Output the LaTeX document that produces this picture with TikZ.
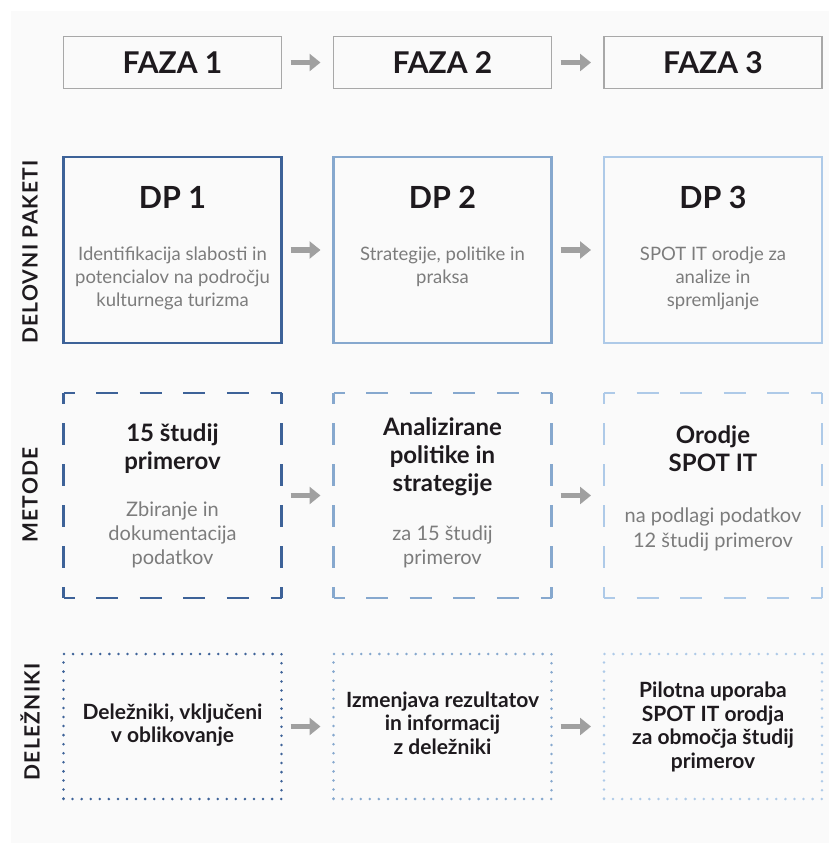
\documentclass[tikz,border=0pt]{standalone}
\usepackage{fontspec}
\setmainfont{Lato}
\usetikzlibrary{arrows.meta}
\definecolor{bA}{HTML}{3D6298}
\definecolor{bB}{HTML}{86A8CE}
\definecolor{bC}{HTML}{AECAE8}
\definecolor{gline}{HTML}{A8A8A8}
\definecolor{garrow}{HTML}{A0A0A0}
\definecolor{tdark}{HTML}{1E1A1E}
\definecolor{tlight}{HTML}{7C7C7C}
\definecolor{bgpaper}{HTML}{FAFAFA}
\tikzset{
  every node/.style={outer sep=0pt},
  fazabox/.style={draw=gline, line width=1.6pt, minimum width=218pt, minimum height=52pt, inner sep=0pt, font=\fontsize{30}{33}\selectfont\bfseries, text=tdark},
  dpbox/.style={line width=2.4pt, minimum width=218pt, minimum height=186pt, inner sep=0pt},
  metbox/.style={minimum width=218pt, minimum height=205pt, inner sep=0pt},
  dh/.style={line width=2.5pt, dash pattern=on 22pt off 21.6pt, dash phase=11pt},
  dv/.style={line width=2.5pt, dash pattern=on 22pt off 19pt, dash phase=11pt},
  delbox/.style={line width=2.8pt, minimum width=218pt, minimum height=145pt, inner sep=0pt, line cap=round, dash pattern=on 0pt off 9.07pt},
  ttl/.style={font=\fontsize{30.5}{33}\selectfont\bfseries, text=tdark},
  btitle/.style={align=center, font=\fontsize{24}{28}\selectfont\bfseries, text=tdark},
  body/.style={align=center, font=\fontsize{18.5}{23}\selectfont, text=tlight},
  mbody/.style={align=center, font=\fontsize{20}{24.3}\selectfont, text=tlight},
  dtext/.style={align=center, font=\fontsize{21}{23.6}\selectfont\bfseries, text=tdark},
  side/.style={rotate=90, font=\fontsize{21}{24}\selectfont\bfseries\addfontfeatures{LetterSpace=6}, text=tdark},
  flow/.style={draw=garrow, line width=5.5pt, -{Triangle[length=11pt,width=17pt]}, shorten <=9pt, shorten >=13pt}
}
\newcommand\dashframe[2]{%
  \draw[dh, draw=#2] (#1.north west) -- (#1.north east);
  \draw[dh, draw=#2] (#1.south west) -- (#1.south east);
  \draw[dv, draw=#2] (#1.north west) -- (#1.south west);
  \draw[dv, draw=#2] (#1.north east) -- (#1.south east);}
\begin{document}
\begin{tikzpicture}[x=1pt,y=-1pt]
\useasboundingbox (0,0) rectangle (829,863);
\fill[bgpaper] (11,11) rectangle (829,843);
% phases
\node[fazabox] (f1) at (172.5,62.5) {FAZA 1};
\node[fazabox] (f2) at (442.5,62.5) {FAZA 2};
\node[fazabox] (f3) at (713,62.5) {FAZA 3};
\draw[flow] (f1) -- (f2);
\draw[flow] (f2) -- (f3);
% work packages
\node[dpbox, draw=bA, line width=2.8pt] (d1) at (172.5,250) {};
\node[dpbox, draw=bB] (d2) at (442.5,250) {};
\node[dpbox, draw=bC] (d3) at (713,250) {};
\node[ttl] (d1t) at (172.5,197) {DP 1};
\node[ttl] (d2t) at (442.5,197) {DP 2};
\node[ttl] (d3t) at (713,197) {DP 3};
\node[body] (d1b) at (172.5,278) {Identifikacija slabosti in\\potencialov na področju\\kulturnega turizma};
\node[body] (d2b) at (442.5,266.5) {Strategije, politike in\\praksa};
\node[body] (d3b) at (713,278) {SPOT IT orodje za\\analize in\\spremljanje};
\draw[flow] (d1) -- (d2);
\draw[flow] (d2) -- (d3);
% methods
\node[metbox] (m1) at (172.5,495.5) {};
\node[metbox] (m2) at (442.5,495.5) {};
\node[metbox] (m3) at (713,495.5) {};
\dashframe{m1}{bA}
\dashframe{m2}{bB}
\dashframe{m3}{bC}
\node[btitle] (m1t) at (172.5,448.5) {15 študij\\primerov};
\node[mbody] (m1b) at (172.5,535) {Zbiranje in\\dokumentacija\\podatkov};
\node[btitle] (m2t) at (442.5,456.5) {Analizirane\\politike in\\strategije};
\node[mbody] (m2b) at (442.5,547) {za 15 študij\\primerov};
\node[btitle] (m3t) at (713,449) {Orodje\\SPOT IT};
\node[mbody] (m3b) at (713,529.5) {na podlagi podatkov\\12 študij primerov};
\draw[flow] (m1) -- (m2);
\draw[flow] (m2) -- (m3);
% stakeholders
\node[delbox, draw=bA] (s1) at (172.5,726.5) {};
\node[delbox, draw=bB] (s2) at (442.5,726.5) {};
\node[delbox, draw=bC] (s3) at (713,726.5) {};
\node[dtext] (s1t) at (172.5,725) {Deležniki, vključeni\\v oblikovanje};
\node[dtext] (s2t) at (442.5,723) {Izmenjava rezultatov\\in informacij\\z deležniki};
\node[dtext] (s3t) at (713,727) {Pilotna uporaba\\SPOT IT orodja\\za območja študij\\primerov};
\draw[flow] (s1) -- (s2);
\draw[flow] (s2) -- (s3);
% side labels
\node[side] (l1) at (30,252) {DELOVNI PAKETI};
\node[side] (l2) at (30,495) {METODE};
\node[side] (l3) at (30,722) {DELEŽNIKI};
\end{tikzpicture}
\end{document}
